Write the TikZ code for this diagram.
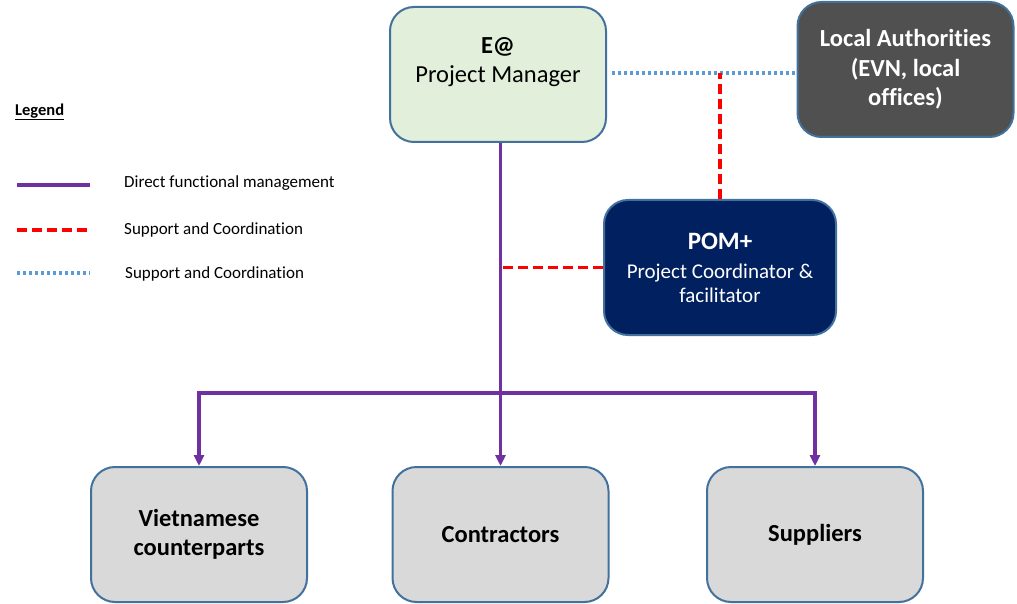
\documentclass[tikz,border=0pt]{standalone}
\usepackage{fontspec}
\setmainfont{Carlito}[Ligatures=NoCommon,Contextuals=NoAlternate]
\usetikzlibrary{arrows.meta}
\definecolor{boxline}{HTML}{41719C}
\definecolor{pmgreen}{HTML}{E2EFDA}
\definecolor{lagray}{HTML}{505050}
\definecolor{pomblue}{HTML}{002060}
\definecolor{partgray}{HTML}{D9D9D9}
\definecolor{mgmtpurple}{HTML}{7030A0}
\definecolor{dotblue}{HTML}{5B9BD5}
\begin{document}
\begin{tikzpicture}[x=1pt,y=-1pt,
  unit/.style={draw=boxline,line width=2pt,rounded corners=24pt,minimum width=216pt,minimum height=135pt,align=center,inner sep=0pt,font=\fontsize{24.5}{29.5}\selectfont},
  mgmt/.style={mgmtpurple,line width=3.2pt},
  supp/.style={red,line width=3.2pt,dash pattern=on 10pt off 5pt},
  coord/.style={dotblue,line width=3.2pt,dash pattern=on 3pt off 3pt},
  legtext/.style={anchor=west,font=\fontsize{17}{19}\selectfont,inner sep=0pt}]
\useasboundingbox (0,0) rectangle (1017,604);
% boxes
\node[unit,fill=pmgreen] (pm) at (498,74.5) {\textbf{E@}\\Project Manager\\\mbox{}};
\node[unit,fill=lagray,text=white,font=\bfseries\fontsize{24.5}{29.5}\selectfont] (la) at (905.5,69.5) {Local Authori\kern0ptties\\(EVN, local\\offices)};
\node[unit,fill=pomblue,text=white,minimum width=232pt,font=\fontsize{21}{24}\selectfont] (pom) at (720,267.5) {{\bfseries\fontsize{25}{25}\selectfont POM+}\\[5pt]Project Coordinator \&\\facilitator};
\node[unit,fill=partgray,font=\bfseries\fontsize{24.5}{29.5}\selectfont] (vc) at (199,534.5) {Vietnamese\\counterparts};
\node[unit,fill=partgray,font=\bfseries\fontsize{24.5}{29.5}\selectfont] (ctr) at (500.5,534.5) {Contractors};
\node[unit,fill=partgray,font=\bfseries\fontsize{24.5}{29.5}\selectfont] (sup) at (815,534.5) {Suppliers};
% connectors
\coordinate (j) at (500.5,393);
\coordinate (dot) at (612,73);
\draw[coord] (dot) -- (dot -| la.west);
\draw[supp] (pom.north) -- (pom.north |- dot);
\draw[supp] (pom.west) -- (pom.west -| ctr.north);
\draw[mgmt,-{Triangle[width=10pt,length=11pt]}] (pm.south -| ctr.north) -- (ctr.north);
\draw[mgmt,-{Triangle[width=10pt,length=11pt]}] (j) -| (vc.north);
\draw[mgmt,-{Triangle[width=10pt,length=11pt]}] (j) -| (sup.north);
% legend
\node[anchor=west,inner sep=0pt,font=\bfseries\fontsize{16.5}{18}\selectfont] (leg) at (15,112) {\underline{Legend}};
\coordinate (l1) at (17,185);
\coordinate (l2) at (17,230);
\coordinate (l3) at (17,273);
\draw[mgmt] (l1) -- ++(73,0);
\draw[supp] (l2) -- ++(73,0);
\draw[coord] (l3) -- ++(73,0);
\node[legtext] (t1) at (124,183) {Direct functional management};
\node[legtext] (t2) at (124,230) {Support and Coordination};
\node[legtext] (t3) at (125,274) {Support and Coordination};
\end{tikzpicture}
\end{document}
